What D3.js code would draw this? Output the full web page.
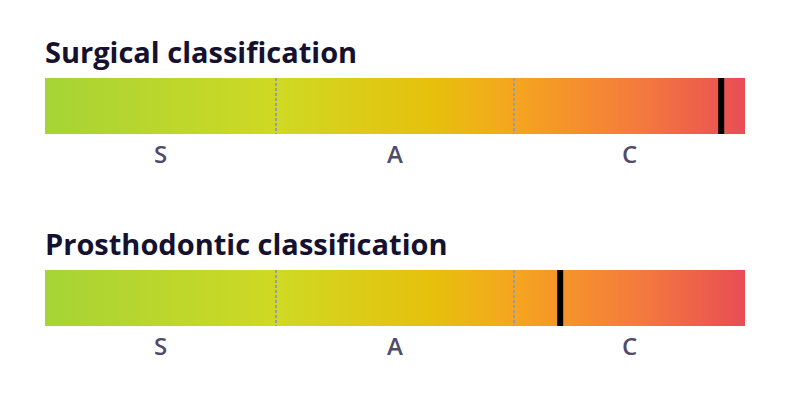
<!DOCTYPE html>
<html>
<head>
<meta charset="utf-8">
<script src="https://cdn.jsdelivr.net/npm/d3@7"></script>
<style>
  body { margin: 0; background: #fff; }
  svg { display: block; }
</style>
</head>
<body>
<svg id="chart" width="792" height="398"></svg>
<script>
// data
const titles = ["Surgical classification", "Prosthodontic classification"];
const scores = [96.6, 73.6];
const classNames = ["S", "A", "C"];
const classBreaks = [0, 33, 67, 100];

const svg = d3.select("#chart");
const x = d3.scaleLinear().domain([0, 100]).range([45, 745]);
const barTops = [78, 270];
const barH = 56;

// gradient green -> yellow -> orange -> red
const defs = svg.append("defs");
const grad = defs.append("linearGradient").attr("id", "classGrad")
    .attr("x1", "0%").attr("x2", "100%").attr("y1", "0%").attr("y2", "0%");
const stops = [
    [0, "#a6d436"], [0.33, "#cfd923"], [0.55, "#e6c10c"],
    [0.68, "#f6a320"], [0.85, "#f47a3d"], [1, "#e84d55"]
];
stops.forEach(function (s) {
    grad.append("stop").attr("offset", s[0]).attr("stop-color", s[1]);
});

titles.forEach(function (t, i) {
    let top = barTops[i];
    let g = svg.append("g");

    g.append("text")
        .text(t)
        .attr("x", 45)
        .attr("y", top - 15)
        .style("font-family", "'Open Sans', 'Noto Sans', sans-serif")
        .style("font-weight", 700)
        .style("font-size", "29px")
        .style("fill", "#15112e");

    g.append("rect")
        .attr("x", x(0))
        .attr("y", top)
        .attr("width", x(100) - x(0))
        .attr("height", barH)
        .style("fill", "url(#classGrad)");

    // dotted dividers between classes
    for (var k = 1; k < classBreaks.length - 1; k++) {
        g.append("line")
            .attr("x1", x(classBreaks[k])).attr("x2", x(classBreaks[k]))
            .attr("y1", top).attr("y2", top + barH)
            .style("stroke", "#9b9aa6")
            .style("stroke-width", 2)
            .style("stroke-dasharray", "3,2");
    }

    // class labels
    for (var k = 0; k < classNames.length; k++) {
        g.append("text")
            .text(classNames[k])
            .attr("x", x((classBreaks[k] + classBreaks[k + 1]) / 2))
            .attr("y", top + barH + 29)
            .attr("text-anchor", "middle")
            .style("font-family", "'Open Sans', 'Noto Sans', sans-serif")
            .style("font-weight", 600)
            .style("font-size", "24px")
            .style("fill", "#4f4b6b");
    }

    // score marker
    g.append("rect")
        .attr("x", x(scores[i]) - 3)
        .attr("y", top)
        .attr("width", 6)
        .attr("height", barH)
        .style("fill", "#000");
});
</script>
</body>
</html>
